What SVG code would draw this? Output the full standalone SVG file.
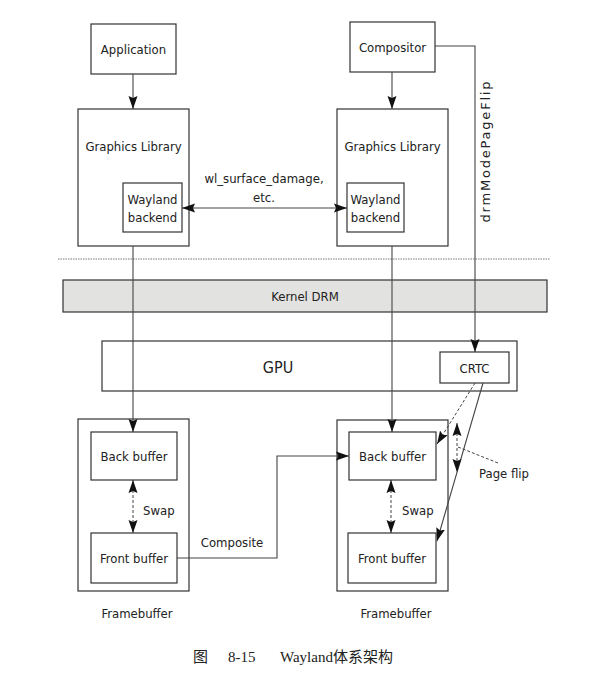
<svg xmlns="http://www.w3.org/2000/svg" width="608" height="674" viewBox="0 0 608 674">
<style>
  .box{fill:#fff;stroke:#333;stroke-width:1.2}
  .t{font-family:"DejaVu Sans Condensed","DejaVu Sans","Liberation Sans",sans-serif;font-stretch:condensed;font-size:13px;fill:#222;text-anchor:middle;dominant-baseline:central}
  .ln{fill:none;stroke:#444;stroke-width:1.1}
  .dash{fill:none;stroke:#444;stroke-width:1;stroke-dasharray:3,2}
</style>
<defs>
  <marker id="ah" markerUnits="userSpaceOnUse" markerWidth="14" markerHeight="10" refX="13" refY="4.5" orient="auto-start-reverse" viewBox="0 0 14 9">
    <path d="M0,0 L13,4.5 L0,9 L2,4.5 z" fill="#111"/>
  </marker>
</defs>
<rect width="608" height="674" fill="#fff"/>

<g id="app"><rect class="box" x="91" y="24" width="85" height="50"/><text class="t" x="133.5" y="49">Application</text></g>
<g id="compositor"><rect class="box" x="350" y="22" width="85" height="50"/><text class="t" x="392.5" y="47">Compositor</text></g>

<g id="gl-left"><rect class="box" x="78" y="109" width="111" height="137"/><text class="t" x="133.5" y="146">Graphics Library</text></g>
<g id="wb-left"><rect class="box" x="123" y="183" width="59" height="49"/><text class="t" x="152.5" y="199">Wayland</text><text class="t" x="152.5" y="217">backend</text></g>
<g id="gl-right"><rect class="box" x="337" y="109" width="111" height="137"/><text class="t" x="392.5" y="146">Graphics Library</text></g>
<g id="wb-right"><rect class="box" x="347" y="183" width="57" height="49"/><text class="t" x="375.5" y="199">Wayland</text><text class="t" x="375.5" y="217">backend</text></g>

<g id="separator"><line x1="58" y1="259" x2="550" y2="259" stroke="#777" stroke-width="1" stroke-dasharray="1.5,1"/></g>

<g id="kernel-drm"><rect x="63" y="280" width="484" height="32" fill="#e2e2e0" stroke="#333" stroke-width="1.2"/><text class="t" x="305" y="296">Kernel DRM</text></g>

<g id="gpu"><rect class="box" x="102" y="341" width="415" height="50"/><text class="t" x="278" y="367" style="font-size:16px">GPU</text></g>
<g id="crtc"><rect class="box" x="440" y="352" width="69" height="31"/><text class="t" x="474.5" y="368">CRTC</text></g>

<g id="fb-left"><rect class="box" x="78" y="419" width="111" height="172"/><text class="t" x="137" y="613">Framebuffer</text></g>
<g id="back-left"><rect class="box" x="91" y="432" width="86" height="48"/><text class="t" x="134" y="456">Back buffer</text></g>
<g id="front-left"><rect class="box" x="91" y="533" width="86" height="50"/><text class="t" x="134" y="558">Front buffer</text></g>

<g id="fb-right"><rect class="box" x="337" y="420" width="111" height="171"/><text class="t" x="396" y="613">Framebuffer</text></g>
<g id="back-right"><rect class="box" x="349" y="432" width="87" height="48"/><text class="t" x="392.5" y="456">Back buffer</text></g>
<g id="front-right"><rect class="box" x="348" y="533" width="88" height="50"/><text class="t" x="392" y="558">Front buffer</text></g>

<g id="connectors">
  <line class="ln" x1="133" y1="74" x2="133" y2="109" marker-end="url(#ah)"/>
  <line class="ln" x1="392" y1="72" x2="392" y2="109" marker-end="url(#ah)"/>
  <line class="ln" x1="182" y1="208" x2="347" y2="208" marker-start="url(#ah)" marker-end="url(#ah)"/>
  <polyline class="ln" points="435,46 475,46 475,352" marker-end="url(#ah)"/>
  <line class="ln" x1="133" y1="246" x2="133" y2="432" marker-end="url(#ah)"/>
  <line class="ln" x1="392" y1="246" x2="392" y2="432" marker-end="url(#ah)"/>
  <line class="dash" x1="133" y1="480" x2="133" y2="533" marker-start="url(#ah)" marker-end="url(#ah)"/>
  <line class="dash" x1="391" y1="480" x2="391" y2="533" marker-start="url(#ah)" marker-end="url(#ah)"/>
  <polyline class="ln" points="177,558 277,558 277,456 349,456" marker-end="url(#ah)"/>
  <line class="dash" x1="475" y1="383" x2="437" y2="444" marker-end="url(#ah)"/>
  <line class="ln" stroke-width="1" x1="483" y1="383" x2="437" y2="541" marker-end="url(#ah)"/>
  <line class="dash" x1="457" y1="423" x2="457" y2="472" marker-start="url(#ah)" marker-end="url(#ah)"/>
  <line class="dash" x1="458" y1="447" x2="498" y2="463"/>
  <text class="t" x="264" y="178">wl_surface_damage,</text>
  <text class="t" x="264" y="197">etc.</text>
  <text class="t" x="143" y="510" style="text-anchor:start">Swap</text>
  <text class="t" x="402" y="510" style="text-anchor:start">Swap</text>
  <text class="t" x="232" y="542">Composite</text>
  <text class="t" x="479" y="473" style="text-anchor:start">Page flip</text>
  <text x="0" y="0" transform="translate(485,152) rotate(-90)" style="font-family:'DejaVu Sans','Liberation Sans',sans-serif;font-size:13px;fill:#222;text-anchor:middle;dominant-baseline:central" textLength="141" lengthAdjust="spacing">drmModePageFlip</text>
</g>

<g id="caption" style="font-family:'Liberation Serif','Noto Sans CJK SC',serif;font-size:15px;fill:#222">
  <text x="193" y="662">图</text>
  <text x="228" y="662">8-15</text>
  <text x="280" y="662">Wayland<tspan style="font-family:'Noto Sans CJK SC',sans-serif">体系架构</tspan></text>
</g>
</svg>
